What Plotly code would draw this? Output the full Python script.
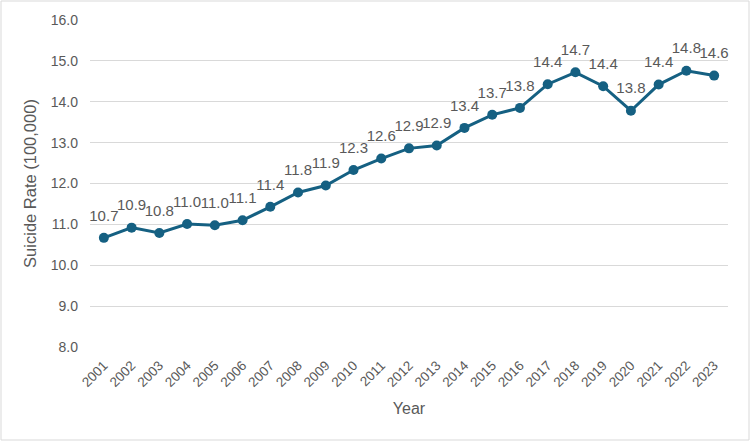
import plotly.graph_objects as go

years = [str(y) for y in range(2001, 2024)]
rates = [10.67, 10.92, 10.79, 11.01, 10.98, 11.10, 11.43, 11.78, 11.95, 12.33, 12.61,
         12.86, 12.93, 13.36, 13.68, 13.85, 14.43, 14.72, 14.38, 13.78, 14.42, 14.76, 14.64]
labels = [f"{v:.1f}" for v in rates]
yticks = [8.0 + i for i in range(9)]

L, R, T, B = 90, 22, 20, 94
PW, PH = 750 - L - R, 441 - T - B

fig = go.Figure()
fig.add_trace(go.Scatter(
    x=years, y=rates, mode="lines+markers",
    line=dict(color="#156082", width=3),
    marker=dict(color="#156082", size=10),
    cliponaxis=False, showlegend=False, hoverinfo="skip",
))
fig.add_trace(go.Scatter(
    x=years, y=rates, mode="markers+text",
    text=labels, textposition="top center",
    textfont=dict(size=15, color="#595959"),
    marker=dict(color="rgba(0,0,0,0)", size=20),
    cliponaxis=False, showlegend=False,
))

fig.update_layout(
    width=750, height=441,
    margin=dict(l=L, r=R, t=T, b=B, autoexpand=False),
    paper_bgcolor="white", plot_bgcolor="white",
    font=dict(family="Liberation Sans, Arial, sans-serif", color="#595959"),
    xaxis=dict(
        type="category", range=[-0.5, len(years) - 0.5],
        tickangle=-45, tickfont=dict(size=13.5, color="#595959"),
        showgrid=False, showline=False, ticks="", automargin=False,
        ticklabelstandoff=7,
        title=dict(text="Year", font=dict(size=16, color="#595959"), standoff=13),
    ),
    yaxis=dict(
        range=[8, 16], tickvals=yticks, ticktext=[f"{v:.1f}" for v in yticks],
        tickfont=dict(size=14, color="#595959"),
        showgrid=True, gridcolor="#D9D9D9", gridwidth=1,
        zeroline=False, showline=False, ticks="", automargin=False,
        ticklabelstandoff=11,
        title=dict(text="Suicide Rate (100,000)", font=dict(size=16.5, color="#595959"), standoff=9),
    ),
    shapes=[dict(type="rect", xref="paper", yref="paper",
                 x0=(1 - L) / PW, x1=1 + (R - 1) / PW, y0=-(B - 1) / PH, y1=1 + (T - 1) / PH,
                 line=dict(color="#D9D9D9", width=1))],
)

fig.write_html("out.html", config={"displayModeBar": False},
               post_script="document.body.style.margin='0';")
